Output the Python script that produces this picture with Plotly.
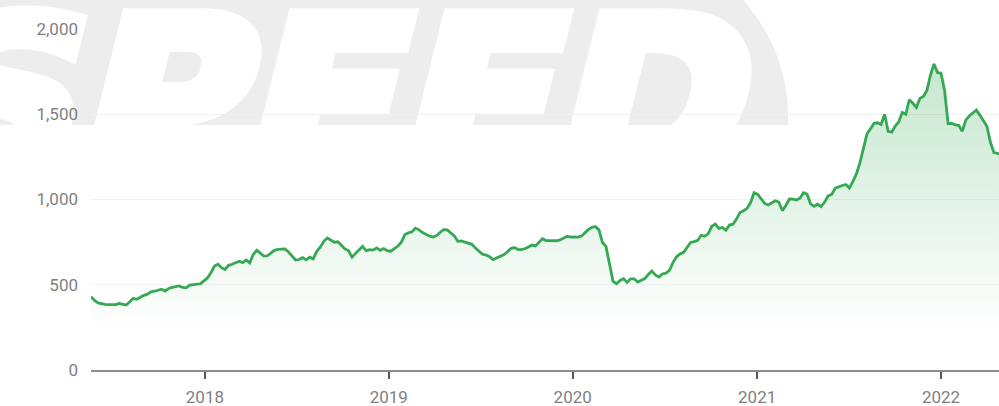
import base64
import pandas as pd
import plotly.graph_objects as go

# Weekly closing values, first week starting 2017-05-20
first_week = "2017-05-20"
weekly_close = [
    430, 408, 393, 388, 385, 384, 382, 383, 390, 386,
    381, 400, 420, 415, 428, 438, 445, 459, 462, 470,
    474, 463, 478, 484, 490, 493, 484, 482, 498, 502,
    504, 505, 522, 540, 570, 610, 620, 600, 590, 614,
    620, 628, 638, 630, 645, 628, 678, 702, 684, 668,
    670, 685, 702, 708, 710, 710, 692, 665, 645, 648,
    659, 646, 662, 652, 696, 720, 755, 774, 762, 749,
    752, 730, 710, 700, 662, 684, 705, 725, 700, 706,
    703, 716, 702, 712, 700, 697, 712, 727, 750, 795,
    804, 811, 832, 822, 806, 795, 785, 780, 788, 808,
    823, 822, 805, 787, 755, 757, 750, 744, 737, 715,
    694, 679, 674, 664, 648, 656, 664, 676, 692, 712,
    718, 708, 706, 711, 721, 733, 728, 747, 770, 759,
    758, 761, 758, 763, 772, 784, 780, 780, 779, 785,
    805, 823, 837, 841, 822, 748, 725, 630, 520, 506,
    525, 535, 514, 535, 535, 516, 525, 536, 560, 580,
    558, 545, 563, 568, 585, 630, 664, 680, 690, 718,
    748, 753, 760, 790, 784, 800, 843, 856, 831, 836,
    820, 850, 855, 885, 924, 934, 948, 982, 1040, 1030,
    1000, 977, 968, 980, 993, 985, 935, 965, 1003, 1002,
    997, 1008, 1040, 1032, 975, 960, 972, 958, 985, 1021,
    1030, 1066, 1075, 1082, 1088, 1068, 1105, 1150, 1215, 1300,
    1385, 1415, 1447, 1450, 1440, 1500, 1400, 1395, 1430, 1455,
    1510, 1500, 1585, 1565, 1540, 1593, 1605, 1640, 1730, 1795,
    1745, 1740, 1640, 1445, 1447, 1437, 1435, 1400, 1465, 1490,
    1505, 1525, 1495, 1460, 1430, 1335, 1275, 1270, 1265,
]
weeks = pd.date_range(first_week, periods=len(weekly_close), freq="7D")

year_labels = ["2018", "2019", "2020", "2021", "2022"]
year_ticks = [f"{y}-01-01" for y in year_labels]
value_ticks = [0, 500, 1000, 1500, 2000]

W, H = 999, 406
M_L, M_R, M_T, M_B = 91, 0, 29, 36
plot_w = W - M_L - M_R
plot_h = H - M_T - M_B

GREEN = "#34a853"

# Faded brand mark behind the upper part of the chart
mark_svg = f"""<svg xmlns="http://www.w3.org/2000/svg" width="{W}" height="{H}" viewBox="0 0 {W} {H}">
<defs><clipPath id="c"><rect x="0" y="0" width="{W}" height="125"/></clipPath></defs>
<g clip-path="url(#c)">
<path d="M0,0 H743 A175,175 0 0 1 788,125 H0 Z" fill="#ededed"/>
<g transform="translate(0,174) skewX(-14)">
<text x="-95" y="0" font-family="DejaVu Sans" font-weight="bold" font-size="218" fill="#ffffff" stroke="#ffffff" stroke-width="14" stroke-linejoin="miter" textLength="828" lengthAdjust="spacingAndGlyphs">SPEED</text>
</g></g></svg>"""
mark_uri = "data:image/svg+xml;base64," + base64.b64encode(mark_svg.encode()).decode()

fig = go.Figure()
fig.add_trace(go.Scatter(
    x=weeks,
    y=weekly_close,
    mode="lines",
    line=dict(color=GREEN, width=2.8),
    fill="tozeroy",
    fillgradient=dict(
        type="vertical",
        start=0,
        stop=2000,
        colorscale=[
            [0.0, "rgba(52,168,83,0)"],
            [0.12, "rgba(52,168,83,0)"],
            [1.0, "rgba(52,168,83,0.32)"],
        ],
    ),
    hoverinfo="skip",
    showlegend=False,
))

fig.add_layout_image(dict(
    source=mark_uri,
    xref="paper", yref="paper",
    x=-M_L / plot_w, y=(H - M_B) / plot_h,
    sizex=W / plot_w, sizey=H / plot_h,
    xanchor="left", yanchor="top",
    sizing="stretch",
    layer="below",
))

fig.update_layout(
    width=W, height=H,
    margin=dict(l=M_L, r=M_R, t=M_T, b=M_B, pad=0),
    paper_bgcolor="#ffffff",
    plot_bgcolor="rgba(0,0,0,0)",
    font=dict(family="Roboto", size=17, color="#7f7f7f"),
    showlegend=False,
    xaxis=dict(
        type="date",
        range=["2017-05-20", "2022-04-26"],
        tickvals=year_ticks,
        ticktext=year_labels,
        showgrid=False,
        zeroline=False,
        showline=True,
        linecolor="#8e8e8e",
        linewidth=2,
        ticks="outside",
        ticklen=7,
        tickwidth=2,
        tickcolor="#555555",
        ticklabelstandoff=4,
    ),
    yaxis=dict(
        range=[0, 2000],
        tickvals=value_ticks,
        tickformat=",",
        showgrid=True,
        gridcolor="#f1f1f1",
        gridwidth=1,
        zeroline=False,
        showline=False,
        ticks="",
        ticklabelstandoff=12,
    ),
)

fig.write_html("out.html")
